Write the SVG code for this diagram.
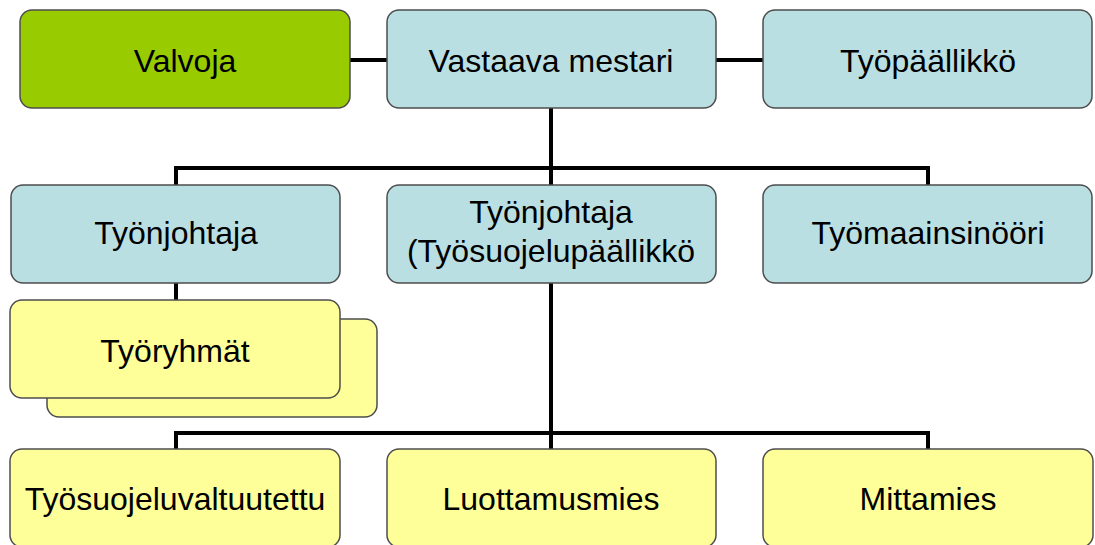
<svg xmlns="http://www.w3.org/2000/svg" width="1095" height="545" viewBox="0 0 1095 545">
<style>
.box{stroke:#4d4d4d;stroke-width:1.5}
.blue{fill:#badfe3}
.green{fill:#99cc00}
.yellow{fill:#ffff99}
.lbl{font-family:"Liberation Sans",Arial,sans-serif;font-size:32px;fill:#000;text-anchor:middle}
.conn{stroke:#000;stroke-width:4;fill:none}
</style>
<rect width="1095" height="545" fill="#fff"/>
<g id="connectors">
<line class="conn" x1="350" y1="60" x2="387" y2="60"/>
<line class="conn" x1="716" y1="60" x2="763" y2="60"/>
<polyline class="conn" points="176,185 176,168 928,168 928,185"/>
<line class="conn" x1="551" y1="108" x2="551" y2="185"/>
<line class="conn" x1="176" y1="283" x2="176" y2="300"/>
<line class="conn" x1="551" y1="283" x2="551" y2="449"/>
<polyline class="conn" points="176,449 176,433 928,433 928,449"/>
</g>
<g id="valvoja">
<rect class="box green" x="20" y="10" width="330" height="98" rx="12"/>
<text class="lbl" x="185" y="72">Valvoja</text>
</g>
<g id="vastaava-mestari">
<rect class="box blue" x="387" y="10" width="329" height="98" rx="12"/>
<text class="lbl" x="551" y="72">Vastaava mestari</text>
</g>
<g id="tyopaallikko">
<rect class="box blue" x="763" y="10" width="329" height="98" rx="12"/>
<text class="lbl" x="928" y="72">Työpäällikkö</text>
</g>
<g id="tyonjohtaja">
<rect class="box blue" x="11" y="185" width="329" height="98" rx="12"/>
<text class="lbl" x="176" y="244">Työnjohtaja</text>
</g>
<g id="tyonjohtaja-tyosuojelu">
<rect class="box blue" x="387" y="185" width="329" height="98" rx="12"/>
<text class="lbl" x="551" y="223">Työnjohtaja</text>
<text class="lbl" x="551" y="262">(Työsuojelupäällikkö</text>
</g>
<g id="tyomaainsinoori">
<rect class="box blue" x="763" y="185" width="329" height="98" rx="12"/>
<text class="lbl" x="928" y="244">Työmaainsinööri</text>
</g>
<g id="tyoryhmat">
<rect class="box yellow" x="47" y="319" width="330" height="98" rx="12"/>
<rect class="box yellow" x="10" y="300" width="330" height="98" rx="12"/>
<text class="lbl" x="175" y="362">Työryhmät</text>
</g>
<g id="tyosuojeluvaltuutettu">
<rect class="box yellow" x="10" y="449" width="330" height="98" rx="12"/>
<text class="lbl" x="175" y="510">Työsuojeluvaltuutettu</text>
</g>
<g id="luottamusmies">
<rect class="box yellow" x="387" y="449" width="329" height="98" rx="12"/>
<text class="lbl" x="551" y="510">Luottamusmies</text>
</g>
<g id="mittamies">
<rect class="box yellow" x="763" y="449" width="330" height="98" rx="12"/>
<text class="lbl" x="928" y="510">Mittamies</text>
</g>
</svg>
